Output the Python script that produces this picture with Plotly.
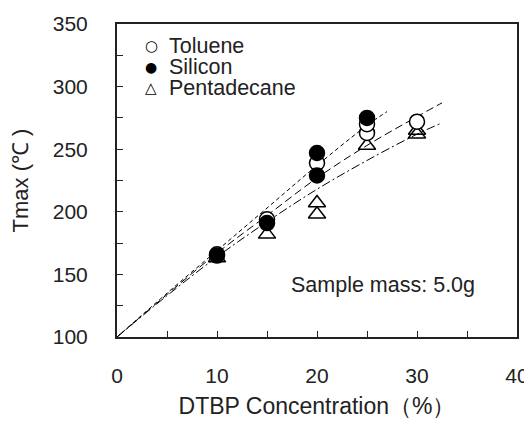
import plotly.graph_objects as go

# Measured data
tol_x = [10, 15, 20, 25, 25, 30]
tol_y = [166, 194, 239, 263, 270, 272]
sil_x = [10, 15, 20, 20, 25]
sil_y = [165, 191, 247, 229, 275]
pen_x = [10, 15, 20, 20, 25, 30, 30]
pen_y = [163, 182, 207, 198, 253, 265, 262]

# Trend lines
trend_a_x = [0, 5, 10, 15, 20, 25, 27]
trend_a_y = [100, 135, 169, 203, 237, 269, 280]
trend_b_x = [0, 5, 10, 15, 20, 25, 30, 32.5]
trend_b_y = [100, 134, 167, 197, 227, 253, 276, 287]
trend_c_x = [0, 5, 10, 15, 20, 25, 30, 32.5]
trend_c_y = [100, 133, 164, 192, 218, 241, 262, 271]

x_ticks = [0, 10, 20, 30, 40]
y_ticks = [100, 150, 200, 250, 300, 350]

legend_names = ["Toluene", "Silicon", "Pentadecane"]
legend_symbols = ["○", "●", "△"]

FONT = "Liberation Sans, Arial, sans-serif"
INK = "#222"
fig = go.Figure()

line_common = dict(mode="lines", showlegend=False, hoverinfo="skip")
fig.add_trace(go.Scatter(x=trend_a_x, y=trend_a_y, line=dict(color="black", width=1, dash="4px,3px", shape="spline"), **line_common))
fig.add_trace(go.Scatter(x=trend_b_x, y=trend_b_y, line=dict(color="black", width=1, dash="8px,4px", shape="spline"), **line_common))
fig.add_trace(go.Scatter(x=trend_c_x, y=trend_c_y, line=dict(color="black", width=1, dash="9px,3px,2px,3px", shape="spline"), **line_common))

fig.add_trace(go.Scatter(x=pen_x, y=pen_y, mode="markers", name="Pentadecane", showlegend=False,
                         marker=dict(symbol="triangle-up-open", size=15, color="black", line=dict(width=1.5, color="black"))))
fig.add_trace(go.Scatter(x=tol_x, y=tol_y, mode="markers", name="Toluene", showlegend=False,
                         marker=dict(symbol="circle", size=15, color="white", line=dict(width=1.5, color="black"))))
fig.add_trace(go.Scatter(x=sil_x, y=sil_y, mode="markers", name="Silicon", showlegend=False,
                         marker=dict(symbol="circle", size=15, color="black", line=dict(width=1.5, color="black"))))

# legend drawn as text
leg_y = [0.93, 0.863, 0.796]
leg_sizes = [15, 14, 15]
for name, sym, yy, ss in zip(legend_names, legend_symbols, leg_y, leg_sizes):
    fig.add_annotation(x=0.085, y=yy, xref="paper", yref="paper", xanchor="center", yanchor="middle",
                       text=sym, showarrow=False, font=dict(size=ss, color="black", family="DejaVu Sans"))
    fig.add_annotation(x=0.125, y=yy, xref="paper", yref="paper", xanchor="left", yanchor="middle",
                       text=name, showarrow=False, font=dict(size=21.5, color=INK, family=FONT))

fig.add_annotation(x=0.90, y=0.165, xref="paper", yref="paper", xanchor="right", yanchor="middle",
                   text="Sample mass: 5.0g", showarrow=False, font=dict(size=21.5, color=INK, family=FONT))

axis_common = dict(showline=True, linecolor=INK, linewidth=2, mirror=True, showgrid=False, zeroline=False,
                   ticks="inside", ticklen=6, tickwidth=1, tickcolor=INK, automargin=False,
                   tickfont=dict(size=21, color=INK, family=FONT))
fig.update_xaxes(range=[0, 40], tickvals=x_ticks, ticklabelstandoff=19,
                 minor=dict(dtick=5, ticks="inside", ticklen=6, tickcolor=INK),
                 title=dict(text="DTBP Concentration（%）", font=dict(size=23, color=INK, family=FONT), standoff=12),
                 **axis_common)
fig.update_yaxes(range=[100, 350], tickvals=y_ticks, ticklabelstandoff=23,
                 minor=dict(dtick=25, ticks="inside", ticklen=6, tickcolor=INK),
                 title=dict(text="Tmax (℃ )", font=dict(size=22, color=INK, family=FONT), standoff=25),
                 **axis_common)

fig.update_layout(width=524, height=413, margin=dict(l=109, r=15, t=16, b=84),
                  plot_bgcolor="white", paper_bgcolor="white", showlegend=False)
fig.write_html("out.html")
